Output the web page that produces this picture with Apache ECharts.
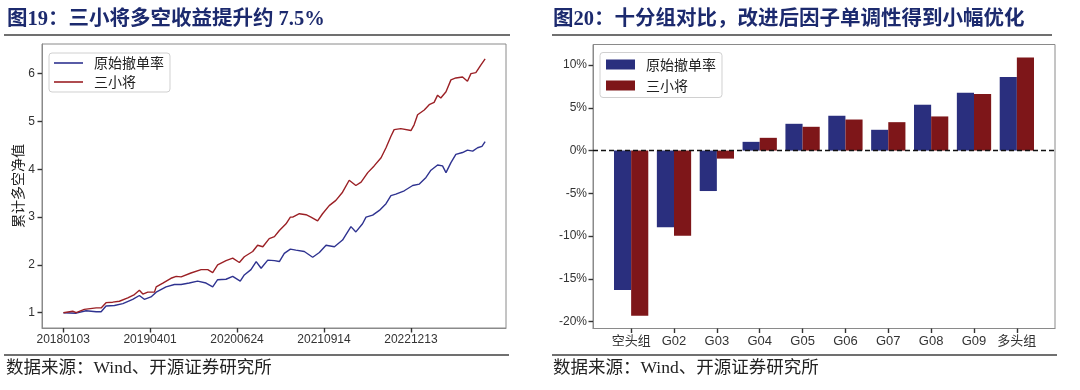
<!DOCTYPE html>
<html>
<head>
<meta charset="utf-8">
<script src="https://cdn.jsdelivr.net/npm/echarts@6/dist/echarts.min.js"></script>
<style>
html,body{margin:0;padding:0;background:#fff;}
#c{width:1080px;height:390px;}
</style>
</head>
<body>
<div id="c"></div>
<script>
// ---- Left chart data (trading-day index vs. cumulative long-short NAV) ----
const dateLabels = ['20180103','20190401','20200624','20210914','20221213'];
const dateTickIdx = [0, 300, 600, 900, 1200];
const leftYTicks = [1, 2, 3, 4, 5, 6];

const origIdx = [1,45,79,114,131,148,177,206,240,263,280,303,321,355,384,407,435,464,493,516,533,562,585,611,625,648,666,683,706,729,746,763,784,803,832,861,884,907,936,964,993,1010,1033,1045,1068,1091,1114,1131,1148,1177,1206,1229,1252,1269,1292,1309,1321,1338,1355,1378,1395,1413,1430,1445,1456];
const origVal = [1.00,0.99,1.04,1.02,1.02,1.14,1.15,1.19,1.28,1.36,1.28,1.33,1.43,1.54,1.59,1.59,1.62,1.66,1.62,1.54,1.69,1.70,1.76,1.66,1.79,1.90,2.07,1.93,2.10,2.09,2.07,2.24,2.33,2.31,2.28,2.16,2.26,2.41,2.38,2.52,2.80,2.69,2.86,3.00,3.04,3.14,3.28,3.45,3.48,3.55,3.66,3.69,3.83,3.98,4.09,4.07,3.93,4.14,4.31,4.35,4.40,4.38,4.45,4.48,4.58];

const sxjIdx = [1,33,45,73,114,131,148,171,194,223,246,263,275,292,315,321,344,372,390,407,441,476,499,516,533,562,585,608,625,654,671,689,711,729,746,769,784,792,815,838,855,878,895,918,941,964,987,1010,1028,1051,1073,1097,1114,1131,1142,1165,1200,1211,1223,1246,1263,1280,1292,1303,1321,1338,1355,1378,1395,1407,1424,1441,1456];
const sxjVal = [1.00,1.03,1.00,1.07,1.10,1.10,1.21,1.22,1.24,1.31,1.38,1.47,1.39,1.43,1.43,1.54,1.62,1.72,1.76,1.75,1.83,1.90,1.90,1.84,2.00,2.09,2.14,2.05,2.17,2.28,2.41,2.38,2.55,2.59,2.72,2.86,3.00,3.00,3.07,3.05,3.00,2.92,3.07,3.24,3.35,3.52,3.77,3.66,3.73,3.93,4.07,4.24,4.45,4.69,4.83,4.85,4.81,4.93,5.14,5.24,5.35,5.40,5.55,5.49,5.62,5.87,5.91,5.93,5.84,6.00,6.02,6.18,6.31];

// ---- Right chart data (ten-group returns, %) ----
const groups = ['空头组','G02','G03','G04','G05','G06','G07','G08','G09','多头组'];
const barOrig = [-16.3,-8.95,-4.73,1.02,3.13,4.07,2.43,5.36,6.76,8.6];
const barSxj = [-19.3,-9.97,-0.94,1.49,2.78,3.63,3.32,3.99,6.6,10.87];
const rightYTicks = [-20,-15,-10,-5,0,5,10];
const groupIdx = [0,1,2,3,4,5,6,7,8,9];

const names = ['原始撤单率','三小将'];
const titleLeft = '图19：三小将多空收益提升约 7.5%';
const titleRight = '图20：十分组对比，改进后因子单调性得到小幅优化';
const sourceText = '数据来源：Wind、开源证券研究所';

const BLUE_LINE = '#2f3390', RED_LINE = '#9b2025';
const BLUE_BAR = '#2a2f7e', RED_BAR = '#7e1619';
const LBL = {fontSize:12, color:'#333', fontFamily:'"Liberation Sans","Noto Sans CJK SC",sans-serif'};
const AXLINE = {show:true, onZero:false, lineStyle:{color:'#8a8a8a', width:1}};
function tick(vals){ return {show:true, customValues:vals, length:4.5, lineStyle:{color:'#333', width:1.4}}; }

const chart = echarts.init(document.getElementById('c'), null, {renderer:'canvas'});
chart.setOption({
  animation:false,
  backgroundColor:'#fff',
  grid:[
    {left:42, top:44, width:464, height:284, show:true, borderColor:'#8a8a8a', borderWidth:1, backgroundColor:'transparent'},
    {left:593, top:44.5, width:462, height:284, show:true, borderColor:'#8a8a8a', borderWidth:1, backgroundColor:'transparent'}
  ],
  xAxis:[
    {gridIndex:0, type:'value', min:-73, max:1528, splitLine:{show:false}, axisLine:AXLINE,
     axisTick:tick(dateTickIdx),
     axisLabel:Object.assign({customValues:dateTickIdx, margin:6, formatter:v=>dateLabels[dateTickIdx.indexOf(v)]}, LBL)},
    {gridIndex:1, type:'value', min:-0.89, max:9.89, splitLine:{show:false}, axisLine:AXLINE,
     axisTick:tick(groupIdx),
     axisLabel:Object.assign({customValues:groupIdx, margin:6, formatter:v=>groups[v]}, LBL, {fontSize:13})}
  ],
  yAxis:[
    {gridIndex:0, type:'value', min:0.68, max:6.62, splitLine:{show:false}, axisLine:AXLINE,
     axisTick:tick(leftYTicks),
     axisLabel:Object.assign({customValues:leftYTicks, margin:7}, LBL),
     name:'累计多空净值', nameLocation:'middle', nameRotate:90, nameGap:17,
     nameTextStyle:{fontSize:14, color:'#222', fontFamily:'"Noto Sans CJK SC",sans-serif'}},
    {gridIndex:1, type:'value', min:-20.8, max:12.4, splitLine:{show:false}, axisLine:AXLINE,
     axisTick:tick(rightYTicks),
     axisLabel:Object.assign({customValues:rightYTicks, margin:6, formatter:v=>v+'%'}, LBL)}
  ],
  legend:[
    {left:49, top:53, orient:'vertical', data:names, padding:[3,6,3,5], itemWidth:29, itemHeight:1.6, itemGap:5,
     icon:'rect', borderColor:'#d0d0d0', borderWidth:1, borderRadius:3, backgroundColor:'#fff',
     textStyle:{fontSize:14, color:'#222', padding:[0,0,0,6], fontFamily:'"Noto Sans CJK SC",sans-serif'}},
    {left:600, top:52.5, orient:'vertical', data:names.map(n=>n+' '), padding:[5,6,5,6], itemWidth:29, itemHeight:10, itemGap:7,
     icon:'rect', borderColor:'#d0d0d0', borderWidth:1, borderRadius:3, backgroundColor:'#fff',
     formatter:n=>n.trim(),
     textStyle:{fontSize:14, color:'#222', padding:[0,0,0,6], fontFamily:'"Noto Sans CJK SC",sans-serif'}}
  ],
  series:[
    {name:names[0], type:'line', xAxisIndex:0, yAxisIndex:0, symbol:'none', showSymbol:false,
     lineStyle:{color:BLUE_LINE, width:1.4}, itemStyle:{color:BLUE_LINE},
     data:origIdx.map((x,i)=>[x, origVal[i]])},
    {name:names[1], type:'line', xAxisIndex:0, yAxisIndex:0, symbol:'none', showSymbol:false,
     lineStyle:{color:RED_LINE, width:1.4}, itemStyle:{color:RED_LINE},
     data:sxjIdx.map((x,i)=>[x, sxjVal[i]])},
    {name:names[0]+' ', type:'bar', xAxisIndex:1, yAxisIndex:1, barGap:'0%', barCategoryGap:'20%',
     itemStyle:{color:BLUE_BAR}, data:groupIdx.map((x,i)=>[x, barOrig[i]]),
     markLine:{symbol:'none', silent:true, z:10, label:{show:false},
       lineStyle:{type:[5,3], color:'#111', width:1.4}, data:[{yAxis:0}]}},
    {name:names[1]+' ', type:'bar', xAxisIndex:1, yAxisIndex:1, barGap:'0%', barCategoryGap:'20%',
     itemStyle:{color:RED_BAR}, data:groupIdx.map((x,i)=>[x, barSxj[i]])}
  ],
  graphic:[
    {type:'text', left:7, top:9, style:{text:titleLeft, fill:'#1c2a6e', font:'bold 20.5px "Liberation Serif","Noto Sans CJK SC",serif'}},
    {type:'text', left:553, top:9, style:{text:titleRight, fill:'#1c2a6e', font:'bold 20.5px "Liberation Serif","Noto Sans CJK SC",serif'}},
    {type:'line', shape:{x1:4, y1:35, x2:510, y2:35}, style:{stroke:'#404040', lineWidth:1.5}},
    {type:'line', shape:{x1:552, y1:35, x2:1052, y2:35}, style:{stroke:'#404040', lineWidth:1.5}},
    {type:'line', shape:{x1:4, y1:355, x2:509, y2:355}, style:{stroke:'#404040', lineWidth:1.5}},
    {type:'line', shape:{x1:552, y1:355, x2:1057, y2:355}, style:{stroke:'#404040', lineWidth:1.5}},
    {type:'text', left:6, top:360, style:{text:sourceText, fill:'#222', font:'17.5px "Liberation Serif","Noto Sans CJK SC",serif'}},
    {type:'text', left:553, top:360, style:{text:sourceText, fill:'#222', font:'17.5px "Liberation Serif","Noto Sans CJK SC",serif'}}
  ]
});
</script>
</body>
</html>
